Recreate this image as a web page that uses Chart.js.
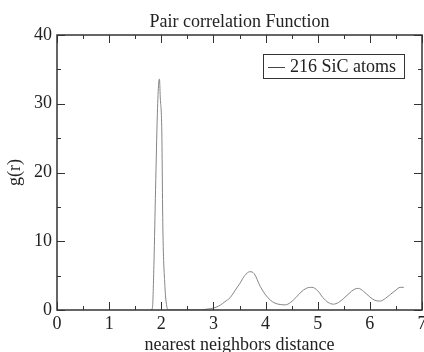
<!DOCTYPE html>
<html>
<head>
<meta charset="utf-8">
<script src="https://cdn.jsdelivr.net/npm/chart.js@4.4.1/dist/chart.umd.min.js"></script>
<style>
  html, body { margin: 0; padding: 0; background: #fff; }
  #wrap { width: 424px; height: 352px; }
</style>
</head>
<body>
<div id="wrap"><canvas id="chart" width="424" height="352"></canvas></div>
<script>
// pair correlation g(r)
const rValues = [1.80, 1.83, 1.86, 1.89, 1.925, 1.95, 1.965, 1.98, 2.01, 2.03, 2.07, 2.10, 2.14, 2.20,
  2.78, 2.85, 2.95, 3.05, 3.13, 3.22, 3.32, 3.42, 3.51, 3.60, 3.70, 3.78, 3.90, 4.00, 4.09, 4.18,
  4.28, 4.38, 4.48, 4.58, 4.68, 4.78, 4.89, 5.00, 5.10, 5.20, 5.30, 5.40, 5.50, 5.60, 5.70, 5.78,
  5.88, 6.00, 6.10, 6.20, 6.30, 6.40, 6.50, 6.58, 6.65];
const gValues = [0, 0.3, 7, 17.5, 28.6, 33, 33.6, 31, 25.9, 12.1, 3.4, 0.8, 0, 0,
  0, 0.1, 0.2, 0.4, 0.7, 1.2, 1.8, 2.9, 3.9, 5.0, 5.57, 5.3, 3.4, 2.2, 1.45, 1.0,
  0.8, 0.75, 1.1, 1.8, 2.6, 3.15, 3.3, 2.8, 1.8, 1.1, 0.85, 1.1, 1.7, 2.4, 3.0, 3.15,
  2.7, 1.9, 1.4, 1.3, 1.7, 2.3, 2.9, 3.3, 3.3];
const seriesLabel = '216 SiC atoms';
const chartTitle = 'Pair correlation Function';
const xTicks = [0, 1, 2, 3, 4, 5, 6, 7];
const yTicks = [0, 10, 20, 30, 40];

const points = rValues.map((r, i) => ({ x: r, y: gValues[i] }));
const serif = '"Liberation Serif", "DejaVu Serif", serif';
const ink = '#333';
const textInk = '#222';

// frame, inward ticks on all four sides, title centred over the plot
const frameTicks = {
  id: 'frameTicks',
  afterDraw(chart) {
    const { ctx, chartArea: a, scales: { x, y } } = chart;
    ctx.save();
    ctx.strokeStyle = ink;
    ctx.lineWidth = 1.5;
    ctx.strokeRect(a.left, a.top, a.right - a.left, a.bottom - a.top);
    ctx.lineWidth = 1;
    ctx.beginPath();
    for (let v = 0; v <= 7; v += 0.5) {
      const px = Math.round(x.getPixelForValue(v)) + 0.5;
      const len = v % 1 === 0 ? 8 : 4;
      ctx.moveTo(px, a.bottom); ctx.lineTo(px, a.bottom - len);
      ctx.moveTo(px, a.top); ctx.lineTo(px, a.top + len);
    }
    for (let v = 0; v <= 40; v += 5) {
      const py = Math.round(y.getPixelForValue(v)) + 0.5;
      const len = v % 10 === 0 ? 8 : 4;
      ctx.moveTo(a.left, py); ctx.lineTo(a.left + len, py);
      ctx.moveTo(a.right, py); ctx.lineTo(a.right - len, py);
    }
    ctx.stroke();

    ctx.fillStyle = textInk;
    ctx.font = '18px ' + serif;
    ctx.textAlign = 'center';
    ctx.textBaseline = 'alphabetic';
    ctx.fillText(chartTitle, (a.left + a.right) / 2, 27);
    ctx.restore();
  }
};

// boxed legend in the upper right
const boxLegend = {
  id: 'boxLegend',
  afterDraw(chart) {
    const { ctx } = chart;
    const label = chart.data.datasets[0].label;
    ctx.save();
    ctx.font = '18px ' + serif;
    const tw = ctx.measureText(label).width;
    const bx = 263, by = 54, bh = 24;
    const bw = 27 + tw + 8;
    ctx.fillStyle = '#fff';
    ctx.fillRect(bx, by, bw, bh);
    ctx.strokeStyle = ink;
    ctx.lineWidth = 1;
    ctx.strokeRect(bx + 0.5, by + 0.5, bw, bh);
    ctx.strokeStyle = '#444';
    ctx.beginPath();
    ctx.moveTo(bx + 5, by + 13.5); ctx.lineTo(bx + 22, by + 13.5);
    ctx.stroke();
    ctx.fillStyle = textInk;
    ctx.textBaseline = 'middle';
    ctx.fillText(label, bx + 27, by + 13.5);
    ctx.restore();
  }
};

new Chart(document.getElementById('chart'), {
  type: 'line',
  data: {
    datasets: [{
      label: seriesLabel,
      data: points,
      borderColor: '#858585',
      borderWidth: 1,
      pointRadius: 0,
      fill: false,
      cubicInterpolationMode: 'monotone',
    }],
  },
  options: {
    responsive: false,
    animation: false,
    layout: { padding: { left: 0, right: 2, top: 35, bottom: 0 } },
    plugins: {
      legend: { display: false },
      tooltip: { enabled: false },
      title: { display: false },
    },
    scales: {
      x: {
        type: 'linear',
        min: 0,
        max: 7,
        afterBuildTicks: s => { s.ticks = xTicks.map(v => ({ value: v })); },
        afterFit: s => { s.height = 42; s.paddingRight = 0; },
        grid: { display: false, drawTicks: false },
        border: { display: false },
        ticks: { color: textInk, padding: 3, maxRotation: 0, font: { family: serif, size: 18 } },
        title: {
          display: true,
          text: 'nearest neighbors distance',
          color: textInk,
          font: { family: serif, size: 18 },
          padding: { top: 0, bottom: -4 },
        },
      },
      y: {
        min: 0,
        max: 40,
        afterBuildTicks: s => { s.ticks = yTicks.map(v => ({ value: v })); },
        afterFit: s => { s.width = 57; s.paddingTop = 0; },
        grid: { display: false, drawTicks: false },
        border: { display: false },
        ticks: { color: textInk, padding: 5, font: { family: serif, size: 18 } },
        title: {
          display: true,
          text: 'g(r)',
          color: textInk,
          font: { family: serif, size: 18 },
          padding: { top: 4, bottom: 0 },
        },
      },
    },
  },
  plugins: [frameTicks, boxLegend],
});
</script>
</body>
</html>
